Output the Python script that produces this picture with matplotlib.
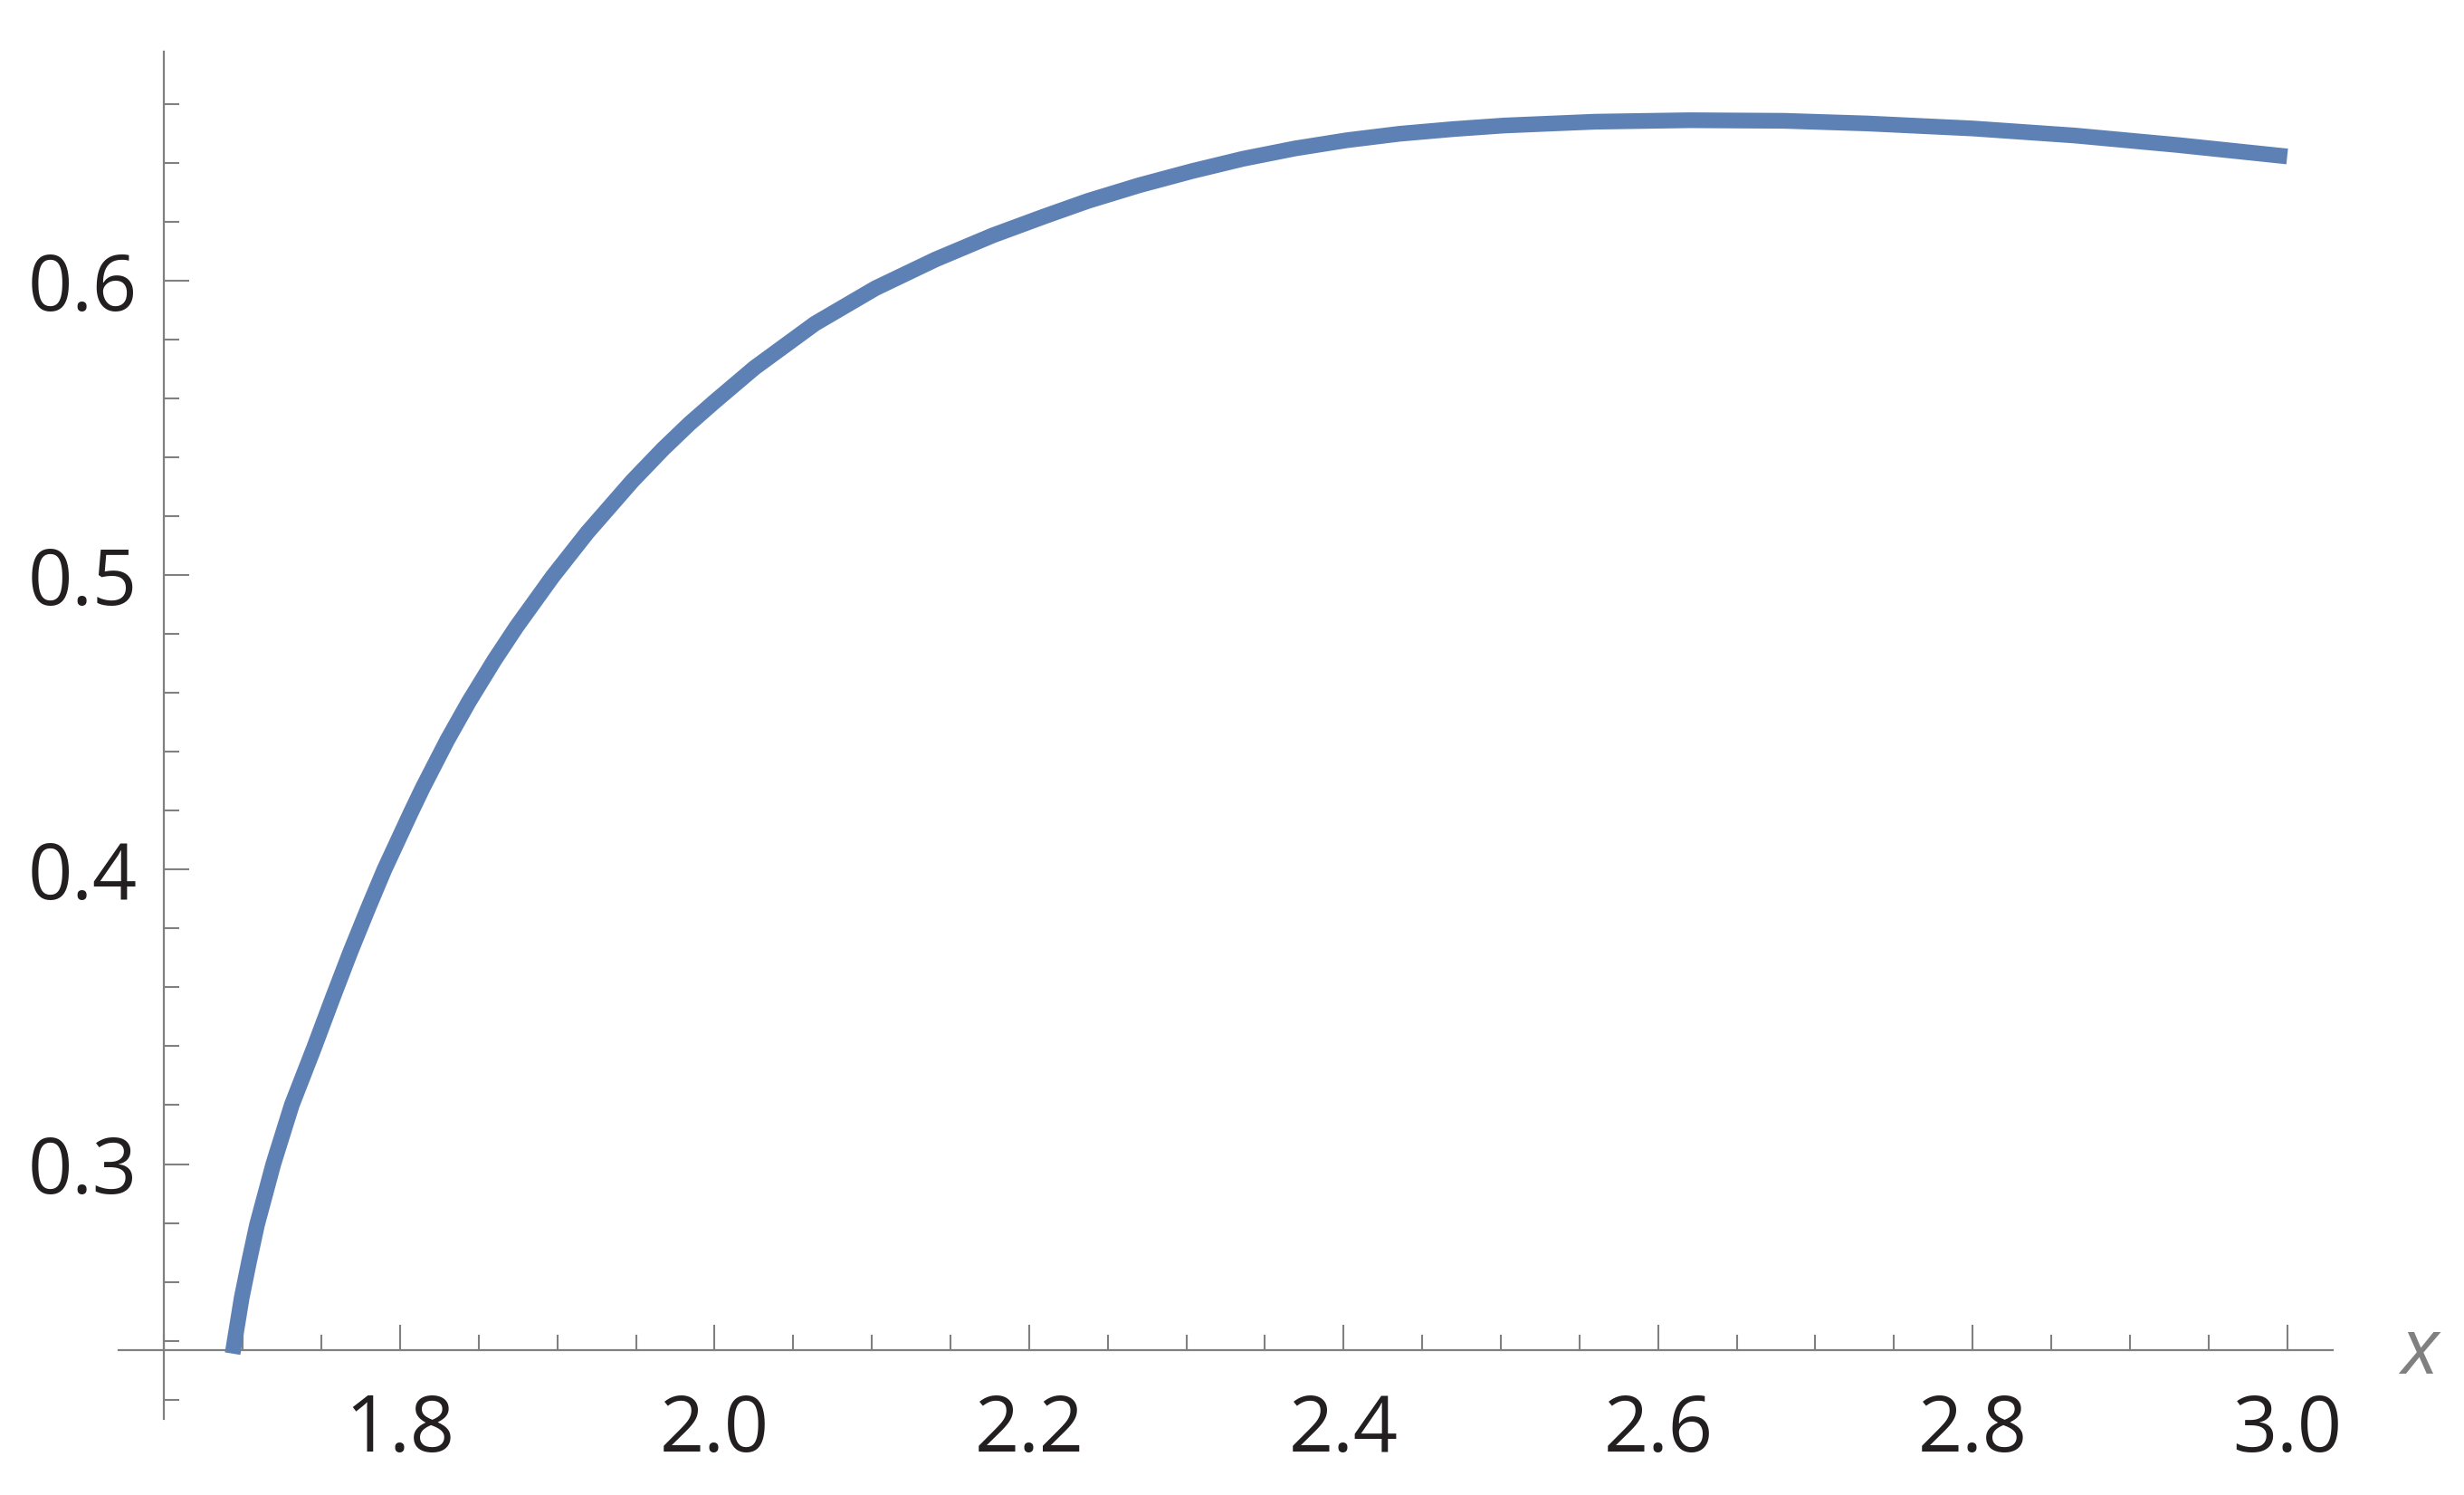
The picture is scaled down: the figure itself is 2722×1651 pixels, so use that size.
import matplotlib

matplotlib.use("Agg")
import matplotlib.pyplot as plt
import numpy as np
from matplotlib.ticker import FixedLocator, NullFormatter

# curve
x_vals = [1.6935, 1.6993, 1.7041, 1.7090, 1.7194, 1.7311, 1.7453, 1.7570, 1.7685,
          1.7800, 1.7900, 1.8065, 1.8144, 1.8300, 1.8437, 1.8600, 1.8740, 1.8969,
          1.9190, 1.9476, 1.9674, 1.9840, 2.0000, 2.0254, 2.0638, 2.1022, 2.1405,
          2.1770, 2.2100, 2.2375, 2.2700, 2.3035, 2.3360, 2.3690, 2.4020, 2.4356,
          2.4700, 2.5020, 2.5600, 2.6200, 2.6800, 2.7330, 2.8000, 2.8650, 2.9300,
          3.0000]
y_vals = [0.2356, 0.2546, 0.2672, 0.2793, 0.3000, 0.3200, 0.3395, 0.3562, 0.3722,
          0.3873, 0.4000, 0.4190, 0.4278, 0.4440, 0.4570, 0.4712, 0.4825, 0.4995,
          0.5145, 0.5320, 0.5430, 0.5515, 0.5590, 0.5705, 0.5855, 0.5975, 0.6073,
          0.6155, 0.6220, 0.6272, 0.6325, 0.6373, 0.6415, 0.6450, 0.6478, 0.6500,
          0.6516, 0.6528, 0.6541, 0.6546, 0.6544, 0.6535, 0.6518, 0.6494, 0.6462,
          0.6423]

x_major = [1.8, 2.0, 2.2, 2.4, 2.6, 2.8, 3.0]
x_labels = ["1.8", "2.0", "2.2", "2.4", "2.6", "2.8", "3.0"]
y_major = [0.3, 0.4, 0.5, 0.6]
y_labels = ["0.3", "0.4", "0.5", "0.6"]

AX_COLOR = "#808080"
TXT_COLOR = "#231f20"
LINE_COLOR = "#5e81b5"
FONT = ["Open Sans", "DejaVu Sans"]

W, H = 2722, 1651
fig = plt.figure(figsize=(W / 100, H / 100), dpi=100)
ax = fig.add_axes([131 / W, 1 - 1566.7 / H, (2576.7 - 131) / W, (1566.7 - 56.7) / H])

ax.plot(x_vals, y_vals, color=LINE_COLOR, linewidth=12.5, solid_capstyle="butt",
        solid_joinstyle="round", clip_on=False, zorder=3)

ax.set_xlim(1.621, 3.0288)
ax.set_ylim(0.2135, 0.678)

for side in ("top", "right"):
    ax.spines[side].set_visible(False)
ax.spines["left"].set_position(("data", 1.65))
ax.spines["bottom"].set_position(("data", 0.2369))
for side in ("left", "bottom"):
    ax.spines[side].set_color(AX_COLOR)
    ax.spines[side].set_linewidth(1.6)

x_minor = [v for v in np.round(np.arange(1.65, 3.001, 0.05), 2) if v not in x_major]
y_minor = [v for v in np.round(np.arange(0.22, 0.661, 0.02), 2) if v not in y_major]

ax.xaxis.set_major_locator(FixedLocator(x_major))
ax.xaxis.set_minor_locator(FixedLocator(x_minor))
ax.yaxis.set_major_locator(FixedLocator(y_major))
ax.yaxis.set_minor_locator(FixedLocator(y_minor))
ax.set_xticklabels(x_labels)
ax.set_yticklabels(y_labels)
ax.xaxis.set_minor_formatter(NullFormatter())
ax.yaxis.set_minor_formatter(NullFormatter())

ax.tick_params(which="both", direction="in", color=AX_COLOR, width=1.5)
ax.tick_params(which="major", length=20)
ax.tick_params(which="minor", length=12.5)
ax.tick_params(axis="x", which="major", pad=34, labelsize=62, labelcolor=TXT_COLOR)
ax.tick_params(axis="y", which="major", pad=21.5, labelsize=62, labelcolor=TXT_COLOR)
for lab in ax.get_xticklabels() + ax.get_yticklabels():
    lab.set_family(FONT)

fig.text(2672.5 / W, 1 - 1516.7 / H, "x", fontsize=62, style="italic",
         family=FONT, color=AX_COLOR, ha="center", va="baseline")

fig.savefig("out.png", dpi=100, facecolor="white")
plt.close(fig)
